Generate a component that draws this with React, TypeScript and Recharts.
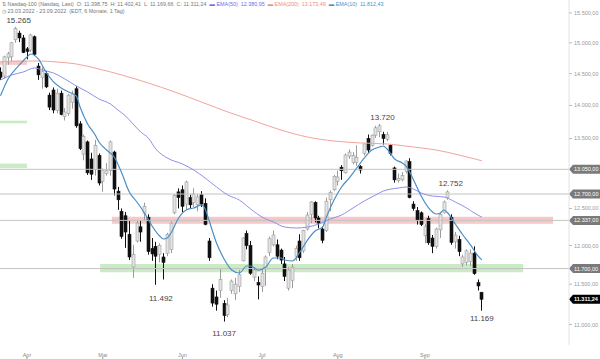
import React from 'react';
import {
  ComposedChart,
  Bar,
  Line,
  XAxis,
  YAxis,
  ReferenceLine,
  ReferenceArea,
  ReferenceDot,
} from 'recharts';

const FONT = '"Liberation Sans", Arial, sans-serif';

// daily OHLC, 23.03.2022 - 23.09.2022 (index 0 = 23.03.)
const opens = [
  14525, 14460, 14760, 14770, 15050, 15160, 15080, 14900, 14880, 15100,
  14620, 14440, 14500, 14160, 14240, 13920, 14190, 13830, 13880, 14050,
  14260, 13720, 13270, 13450, 13200, 13050, 13250, 12880, 12990, 13030,
  13300, 12740, 12460, 12400, 12150, 11720, 12060, 12250, 12430, 12380,
  11960, 11990, 11880, 11850, 11900, 11950, 12440, 12730, 12760, 12560,
  12650, 12580, 12550, 12690, 12570, 12060, 11450, 11340, 11420, 11260,
  11120, 11420, 11380, 11470, 11800, 12160, 12000, 11590, 11520, 11470,
  11700, 11910, 12010, 12010, 11940, 11760, 11450, 11550, 11860, 12060,
  11930, 12220, 12420, 12580, 12370, 12220, 12200, 12620, 12760, 12880,
  13080, 13000, 13240, 13150, 13150, 13090, 13280, 13500, 13400, 13550,
  13600, 13560, 13490, 13400, 13070, 12890, 12900, 13020, 13160, 12560,
  12470, 12440, 12130, 12360, 12100, 11990, 12210, 12440, 12650, 12380,
  12050, 12080, 11760, 11780, 11790, 11900, 11520, 11398.75,
];
const highs = [
  14600, 14790, 14850, 15010, 15265, 15200, 15130, 14930, 15150, 15120,
  14670, 14600, 14540, 14200, 14280, 14260, 14230, 13960, 14180, 14230,
  14300, 13760, 13560, 13470, 13290, 13480, 13280, 13060, 13140, 13470,
  13320, 12800, 12500, 12450, 12330, 12010, 12330, 12330, 12580, 12420,
  12100, 12050, 12030, 11900, 12170, 12320, 12700, 12780, 12820, 12890,
  12690, 12780, 12700, 12740, 12640, 12100, 11500, 11420, 11700, 11300,
  11330, 11560, 11580, 11680, 12110, 12200, 12060, 11720, 11600, 11700,
  11870, 12120, 12200, 12080, 11960, 11850, 11720, 11760, 12000, 12150,
  12210, 12450, 12600, 12600, 12400, 12250, 12650, 12750, 12970, 13030,
  13110, 13280, 13340, 13300, 13400, 13110, 13420, 13560, 13560, 13690,
  13720, 13600, 13600, 13420, 13090, 12990, 13010, 13180, 13210, 12600,
  12520, 12460, 12290, 12400, 12140, 12240, 12450, 12610, 12752, 12420,
  12180, 12130, 11880, 11950, 11950, 11990, 11560, 11402.41,
];
const lows = [
  14400, 14420, 14640, 14700, 15000, 15010, 14830, 14730, 14850, 14790,
  14400, 14260, 14270, 13930, 13880, 13880, 13850, 13770, 13840, 13950,
  13660, 13330, 13180, 12970, 12900, 12960, 12820, 12730, 12960, 12960,
  12680, 12480, 12090, 11970, 11810, 11580, 12040, 12050, 12330, 11880,
  11800, 11492, 11780, 11560, 11860, 11900, 12420, 12500, 12450, 12480,
  12500, 12520, 12460, 12520, 12270, 11800, 11220, 11170, 11330, 11037,
  11090, 11380, 11300, 11400, 11790, 11950, 11620, 11540, 11310, 11400,
  11480, 11860, 11990, 11820, 11760, 11540, 11420, 11450, 11800, 11800,
  11900, 12200, 12300, 12310, 12230, 12030, 12180, 12460, 12740, 12820,
  12900, 12990, 13200, 13120, 13100, 12990, 13250, 13290, 13380, 13510,
  13520, 13410, 13460, 13250, 12860, 12860, 12880, 12990, 12640, 12470,
  12280, 12260, 12030, 12010, 11900, 11960, 12100, 12430, 12620, 12010,
  11960, 11860, 11720, 11740, 11730, 11620, 11420, 11169.66,
];
const closes = [
  14440, 14770, 14820, 15000, 15240, 15080, 14840, 14860, 15130, 14810,
  14480, 14530, 14290, 13975, 13930, 14190, 13860, 13900, 14160, 14180,
  13690, 13350, 13530, 13000, 12980, 13400, 12855, 13040, 13030, 13450,
  12770, 12620, 12120, 12180, 11850, 11880, 12300, 12180, 12530, 11920,
  11890, 11860, 12000, 11780, 12150, 12300, 12680, 12650, 12530, 12870,
  12550, 12700, 12660, 12560, 12283, 11840, 11264, 11250, 11560, 11110,
  11240, 11540, 11500, 11620, 12100, 12000, 11640, 11680, 11490, 11640,
  11850, 12090, 12140, 11860, 11810, 11600, 11680, 11720, 11960, 11840,
  12200, 12410, 12590, 12370, 12300, 12070, 12600, 12720, 12950, 12940,
  13030, 13257, 13300, 13250, 13220, 13040, 13420, 13330, 13550, 13660,
  13690, 13500, 13555, 13281, 12900, 12920, 12960, 13170, 12650, 12500,
  12340, 12280, 12260, 12037, 11990, 12220, 12420, 12590, 12730, 12040,
  12140, 11920, 11850, 11930, 11900, 11635, 11478, 11311.24,
];

const monthTicks = [7, 27, 48, 69, 89, 112];
const monthLabels = ['Apr', 'Mai', 'Jun', 'Jul', 'Aug', 'Sep'];
const priceTicks = [11000, 11500, 12000, 12500, 13500, 14000, 14500, 15000, 15500];

// moving averages at sample bars
const ema10Idx = [0, 2, 5, 7, 8, 10, 12, 14, 16, 18, 20, 21, 23, 25, 26, 28, 30, 32, 34, 36, 38, 40, 42, 43, 44, 45, 47, 49, 51, 53, 54, 55, 57, 59, 61, 63, 65, 66, 68, 70, 72, 74, 75, 77, 79, 81, 83, 85, 86, 88, 90, 92, 94, 96, 98, 100, 101, 102, 104, 106, 107, 109, 111, 113, 115, 116, 117, 118, 120, 122, 124, 126, 127];
const ema10Val = [14150, 14414, 14638, 14767, 14816, 14735, 14525, 14367, 14272, 14209, 14147, 13976, 13718, 13552, 13448, 13330, 13228, 12997, 12728, 12589, 12438, 12261, 12126, 12087, 12100, 12167, 12369, 12479, 12506, 12548, 12493, 12342, 12034, 11824, 11681, 11643, 11733, 11733, 11681, 11720, 11837, 11837, 11811, 11798, 11915, 12073, 12194, 12247, 12383, 12617, 12799, 12926, 13069, 13214, 13330, 13374, 13389, 13345, 13199, 13141, 13098, 12898, 12672, 12506, 12424, 12438, 12479, 12438, 12288, 12140, 12008, 11863, 11812.43];

const ema50Idx = [0, 3, 6, 9, 11, 14, 17, 20, 23, 26, 29, 31, 33, 35, 37, 39, 41, 44, 48, 51, 54, 57, 60, 63, 66, 69, 72, 75, 78, 81, 84, 87, 90, 93, 96, 99, 101, 103, 105, 107, 109, 111, 114, 117, 120, 123, 125, 127];
const ema50Val = [14398, 14478, 14525, 14590, 14557, 14509, 14414, 14304, 14209, 14100, 14023, 13930, 13839, 13717, 13597, 13508, 13345, 13214, 13127, 13040, 12926, 12799, 12686, 12617, 12493, 12383, 12315, 12247, 12234, 12247, 12288, 12356, 12410, 12506, 12603, 12686, 12742, 12770, 12784, 12799, 12770, 12714, 12672, 12659, 12589, 12506, 12438, 12380.95];

const ema200Idx = [0, 5, 10, 15, 20, 26, 32, 39, 46, 53, 60, 67, 74, 81, 88, 95, 102, 109, 115, 121, 127];
const ema200Val = [14686, 14702, 14702, 14686, 14654, 14573, 14478, 14351, 14209, 14054, 13900, 13763, 13627, 13522, 13463, 13434, 13419, 13374, 13330, 13257, 13173.49];

// horizontal levels, zones [fromIdx, toIdx, low, high]
const levels = [13050, 12700, 12337, 11700];
const lastClose = 11311.24;
const redZones = [
  [29.4, 145.8, 12292, 12388],
  [-0.12, 7, 14640, 14705],
];
const greenZones = [
  [26.3, 137.9, 11652, 11758],
  [-0.12, 7, 13728, 13768],
  [-0.12, 7, 13068, 13132],
];

// marked extremes: [index, price, text]
const highMarks: [number, number, string][] = [
  [4, 15265, '15.265'],
  [100, 13720, '13.720'],
  [118, 12752, '12.752'],
];
const lowMarks: [number, number, string][] = [
  [41, 11492, '11.492'],
  [59, 11037, '11.037'],
  [127, 11169.66, '11.169'],
];

const de = (v: number) => {
  const [a, b] = v.toFixed(2).split('.');
  return a.replace(/\B(?=(\d{3})+(?!\d))/g, '.') + ',' + b;
};

const candles = opens.map((o, i) => ({
  i,
  o,
  h: highs[i],
  l: lows[i],
  c: closes[i],
  range: [lows[i], highs[i]],
}));
const ema10Data = ema10Idx.map((i, k) => ({ i, v: ema10Val[k] }));
const ema50Data = ema50Idx.map((i, k) => ({ i, v: ema50Val[k] }));
const ema200Data = ema200Idx.map((i, k) => ({ i, v: ema200Val[k] }));

const Candle = (props: any) => {
  const { x, y, width, height, payload } = props;
  if (!payload) return null;
  const { o, h, l, c } = payload;
  const span = Math.log(h) - Math.log(l) || 1;
  const py = (v: number) => y + (height * (Math.log(h) - Math.log(v))) / span;
  const up = c >= o;
  const cx = Math.round(x + width / 2) + 0.5;
  const top = py(Math.max(o, c));
  const bot = py(Math.min(o, c));
  const line = up ? '#9c9c9c' : '#111';
  return (
    <g>
      <line x1={cx} x2={cx} y1={y} y2={y + height} stroke={line} strokeWidth={1} />
      <rect
        x={cx - 1.5}
        y={top}
        width={3}
        height={Math.max(bot - top, 1)}
        fill={up ? '#e4e4e4' : '#111'}
        stroke={line}
        strokeWidth={0.6}
      />
    </g>
  );
};

const PriceTag = ({ viewBox, fill, text }: any) => {
  if (!viewBox) return null;
  const y = viewBox.y;
  const x = viewBox.x + viewBox.width;
  return (
    <g>
      <path
        d={`M${x} ${y} L${x + 4} ${y - 4.5} L${x + 31} ${y - 4.5} L${x + 31} ${y + 4.5} L${x + 4} ${y + 4.5} Z`}
        fill={fill}
      />
      <text x={x + 5} y={y + 2} fontSize={5.5} fill="#fff" fontFamily={FONT} fontWeight={fill === '#000' ? 700 : 400}>
        {text}
      </text>
    </g>
  );
};

const MarkLabel = ({ viewBox, text, dy, dx }: any) => {
  if (!viewBox) return null;
  return (
    <text
      x={viewBox.x + dx}
      y={viewBox.y + dy}
      textAnchor="middle"
      fontSize={8}
      fill="#444"
      fontFamily={FONT}
    >
      {text}
    </text>
  );
};

const MonthTick = ({ x, y, payload }: any) => {
  const k = monthTicks.indexOf(payload.value);
  return (
    <g>
      <text x={x} y={y + 12} textAnchor="middle" fontSize={5.5} fill="#888" fontFamily={FONT}>
        {monthLabels[k]}
      </text>
      <line x1={x} x2={x} y1={y + 12} y2={y + 15} stroke="#999" />
    </g>
  );
};

export default function App() {
  return (
    <div
      style={{
        position: 'absolute',
        left: 0,
        top: 0,
        width: 600,
        height: 360,
        background: '#fff',
        overflow: 'hidden',
        fontFamily: FONT,
      }}
    >
      <ComposedChart
        width={600}
        height={360}
        data={candles}
        margin={{ top: 0, right: 0, bottom: 0, left: 0 }}
      >
        <XAxis
          dataKey="i"
          type="number"
          domain={[-0.12, 150]}
          ticks={monthTicks}
          tick={<MonthTick />}
          tickSize={0}
          tickMargin={0}
          axisLine={false}
          height={15}
          allowDataOverflow
        />
        <YAxis
          orientation="right"
          scale="log"
          domain={[10756, 15723]}
          allowDataOverflow
          ticks={priceTicks}
          tickFormatter={de}
          width={31}
          tickSize={3}
          tickMargin={2}
          tick={{ fontSize: 5.5, fill: '#999', fontFamily: FONT }}
          tickLine={{ stroke: '#bbb' }}
          axisLine={{ stroke: '#e2e2e2' }}
        />
        {redZones.map(([a, b, lo, hi], k) => (
          <ReferenceArea key={`r${k}`} x1={a} x2={b} y1={lo} y2={hi} fill="#ee9a9a" fillOpacity={0.55} stroke="none" />
        ))}
        {levels.map((v) => (
          <ReferenceLine key={v} y={v} stroke="#c4c4c4" strokeWidth={1} label={<PriceTag fill="#7a7a7a" text={de(v)} />} />
        ))}
        <ReferenceLine y={lastClose} stroke="none" label={<PriceTag fill="#000" text={de(lastClose)} />} />
        {greenZones.map(([a, b, lo, hi], k) => (
          <ReferenceArea key={`g${k}`} x1={a} x2={b} y1={lo} y2={hi} fill="#a6e09c" fillOpacity={0.6} stroke="none" />
        ))}
        <Line data={ema200Data} dataKey="v" type="monotone" stroke="#f2a49c" strokeWidth={1} dot={false} activeDot={false} isAnimationActive={false} />
        <Line data={ema50Data} dataKey="v" type="monotone" stroke="#8e8ef0" strokeWidth={1} dot={false} activeDot={false} isAnimationActive={false} />
        <Line data={ema10Data} dataKey="v" type="monotone" stroke="#4a8fc5" strokeWidth={1.2} dot={false} activeDot={false} isAnimationActive={false} />
        <Bar dataKey="range" barSize={3} shape={<Candle />} activeBar={false} isAnimationActive={false} />
        {highMarks.map(([i, p, t]) => (
          <ReferenceDot key={t} x={i} y={p} r={0} stroke="none" fill="none" label={<MarkLabel text={t} dx={3} dy={-4} />} />
        ))}
        {lowMarks.map(([i, p, t], k) => (
          <ReferenceDot key={t} x={i} y={p} r={0} stroke="none" fill="none" label={<MarkLabel text={t} dx={k === 0 ? 5 : 0} dy={k === 0 ? 16 : k === 1 ? 14 : 10} />} />
        ))}
      </ComposedChart>
      <div style={{ position: 'absolute', left: 0, top: 359, width: 600, height: 1, background: '#cfcfcf' }} />
      <div style={{ position: 'absolute', left: 2, top: 1, fontSize: 5.4, color: '#777', whiteSpace: 'nowrap', lineHeight: '7px' }}>
        <span>⇅ Nasdaq-100 (Nasdaq, Last)&nbsp; O: 11.398,75&nbsp; H: 11.402,41&nbsp; L: 11.169,66&nbsp; C: 11.311,24&nbsp; </span>
        <span style={{ color: '#6b6bf0' }}>▬ EMA(50)&nbsp; 12.380,95&nbsp; </span>
        <span style={{ color: '#ec8c84' }}>▬ EMA(200)&nbsp; 13.173,49&nbsp; </span>
        <span style={{ color: '#4a8fc5' }}>▬ EMA(10)&nbsp; 11.812,43</span>
      </div>
      <div style={{ position: 'absolute', left: 2, top: 8, fontSize: 5.4, color: '#777', whiteSpace: 'nowrap', lineHeight: '7px' }}>
        ◷ 23.03.2022 - 23.09.2022&nbsp; (EDT, 6 Monate, 1 Tag)
      </div>
    </div>
  );
}
